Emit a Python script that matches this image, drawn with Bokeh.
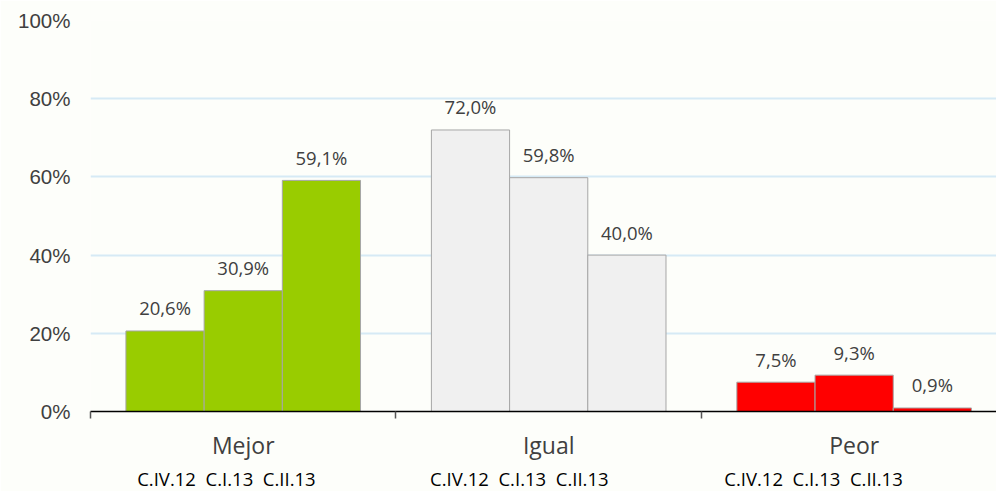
from bokeh.plotting import figure
from bokeh.models import ColumnDataSource, Range1d, FixedTicker, PrintfTickFormatter, LinearAxis
from bokeh.core.properties import value
from bokeh.embed import file_html
from bokeh.resources import INLINE

# ---- data ----
categories = ["Mejor", "Igual", "Peor"]
periods = ["C.IV.12", "C.I.13", "C.II.13"]
mejor = [20.6, 30.9, 59.1]
igual = [72.0, 59.8, 40.0]
peor = [7.5, 9.3, 0.9]
y_ticks = [0, 20, 40, 60, 80, 100]
sub_label = "\u00a0\u00a0".join(periods)

series = [mejor, igual, peor]
colors = ["#99CC00", "#F0F0F0", "#FF0000"]

BG = "#FDFEFA"
TXT = "#404040"
BAR_W = 0.256

xs, tops, fills, labels = [], [], [], []
for gi, vals in enumerate(series):
    for bi, v in enumerate(vals):
        xs.append(gi + 0.5 + (bi - 1) * BAR_W)
        tops.append(v)
        fills.append(colors[gi])
        labels.append(f"{v:.1f}".replace(".", ",") + "%")

src = ColumnDataSource(dict(x=xs, top=tops, fill=fills, label=labels))

p = figure(frame_width=906, frame_height=391, output_backend="svg", toolbar_location=None,
           x_range=Range1d(0, 2.966), y_range=Range1d(0, 100),
           min_border_left=90, min_border_right=0, min_border_top=20, min_border_bottom=0,
           background_fill_color=BG, border_fill_color=BG, outline_line_color=None,
           x_axis_type=None)

p.vbar(x="x", top="top", width=BAR_W, bottom=0, fill_color="fill", line_color="#A6A6A6",
       line_width=1, source=src)

p.text(x="x", y="top", text="label", source=src, text_align="center", text_baseline="middle",
       y_offset=-23, text_font=value("Open Sans"), text_font_size="18.5px", text_color=TXT)

# y axis
p.yaxis.ticker = FixedTicker(ticks=y_ticks)
p.yaxis.formatter = PrintfTickFormatter(format="%d%%")
p.yaxis.axis_line_color = None
p.yaxis.major_tick_line_color = None
p.yaxis.minor_tick_line_color = None
p.yaxis.major_tick_out = 0
p.yaxis.major_tick_in = 0
p.yaxis.minor_tick_out = 0
p.yaxis.major_label_standoff = 20
p.yaxis.major_label_text_font = "Liberation Sans"
p.yaxis.major_label_text_font_size = "20.5px"
p.yaxis.major_label_text_color = TXT

p.ygrid.ticker = FixedTicker(ticks=y_ticks[1:])
p.ygrid.grid_line_color = "#D6EAF5"
p.ygrid.grid_line_width = 2
p.xgrid.grid_line_color = None

# x axis: category labels with group-boundary minor ticks
centers = [i + 0.5 for i in range(len(categories))]
ax1 = LinearAxis(ticker=FixedTicker(ticks=centers, minor_ticks=[0, 1, 2, 3]),
                 major_label_overrides={c: n for c, n in zip(centers, categories)})
ax1.axis_line_color = "black"
ax1.axis_line_width = 1.5
ax1.major_tick_line_color = None
ax1.major_tick_out = 0
ax1.major_tick_in = 0
ax1.minor_tick_line_color = "#555555"
ax1.minor_tick_line_width = 1.5
ax1.minor_tick_out = 7
ax1.minor_tick_in = 0
ax1.major_label_standoff = 10
ax1.major_label_text_font = "Open Sans"
ax1.major_label_text_font_size = "23px"
ax1.major_label_text_color = TXT
p.add_layout(ax1, "below")

sub_pos = [0.445, 1.404, 2.367]
ax2 = LinearAxis(ticker=FixedTicker(ticks=sub_pos, minor_ticks=[]),
                 major_label_overrides={s: sub_label for s in sub_pos})
ax2.axis_line_color = None
ax2.major_tick_line_color = None
ax2.minor_tick_line_color = None
ax2.major_tick_out = 0
ax2.major_tick_in = 0
ax2.major_label_standoff = 2
ax2.major_label_text_font = "Open Sans"
ax2.major_label_text_font_size = "18.5px"
ax2.major_label_text_color = "black"
p.add_layout(ax2, "below")

open("out.html", "w").write(file_html(p, INLINE))
